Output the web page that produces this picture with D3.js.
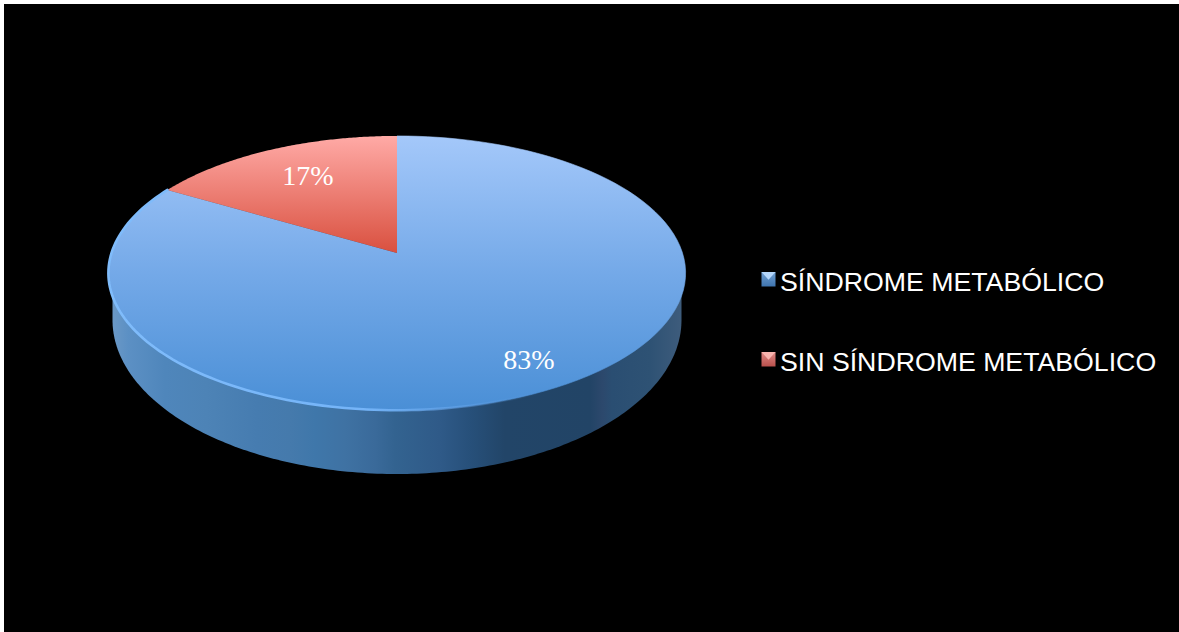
<!DOCTYPE html>
<html><head><meta charset="utf-8">
<script src="https://cdn.jsdelivr.net/npm/d3@7"></script>
<style>html,body{margin:0;padding:0;background:#fff;overflow:hidden}svg{display:block}</style>
</head><body><div id="c"></div>
<script>
const categories = ["SÍNDROME METABÓLICO", "SIN SÍNDROME METABÓLICO"];
const values = [83, 17];
const labels = ["83%", "17%"];
const wallBands = [[113,"#6a98c6"],[128,"#5c90c4"],[165,"#4f86bb"],[207,"#4d83b6"],[257,"#467cb0"],[290,"#457aac"],[315,"#3f77aa"],[345,"#3f72a3"],[375,"#3a6a9a"],[395,"#336390"],[440,"#2f5a88"],[470,"#27507a"],[505,"#224568"],[590,"#224466"],[602,"#2c486c"],[612,"#2a4e72"],[650,"#2e5274"],[682,"#3e5c7c"]];

const W=1179,H=632;
const svg=d3.select("#c").append("svg").attr("width",W).attr("height",H);
svg.append("rect").attr("x",4).attr("y",4).attr("width",W-4).attr("height",H-4).attr("fill","#000");
const defs=svg.append("defs");
function lg(id,stops,x1,y1,x2,y2,units){const g=defs.append("linearGradient").attr("id",id).attr("gradientUnits",units||"userSpaceOnUse")
 .attr("x1",x1).attr("y1",y1).attr("x2",x2).attr("y2",y2);
 stops.forEach(s=>g.append("stop").attr("offset",s[0]).attr("stop-color",s[1]).attr("stop-opacity",s[2]===undefined?1:s[2]));}
lg("blueTop",[[0,"#a4c8fa"],[0.5,"#74a9e8"],[1,"#4a8fd6"]],0,136,0,410);
lg("redTop",[[0,"#ffaaa6"],[1,"#d9503f"]],0,136,0,253);
const wx=d3.scaleLinear().domain([113,682]).range([0,1]);
lg("wall",wallBands.map(b=>[wx(b[0]),b[1]]),113,0,682,0);
lg("rim",[[0,"#80bcfb",1],[0.45,"#74b4f8",1],[0.62,"#6aa8ee",.45],[0.75,"#5a95d8",0]],108,0,686,0);
lg("sqB",[[0,"#6f9fd2"],[1,"#3f74ae"]],0,0,0,1,"objectBoundingBox");
lg("sqR",[[0,"#e08a86"],[1,"#b9504c"]],0,0,0,1,"objectBoundingBox");
defs.append("filter").attr("id","soft").append("feGaussianBlur").attr("stdDeviation",0.7);

// projective disc: apex at (397,253), perspective-tilted circle
const cx=397,cy=253,R=285.5,A=134.2,P=0.1465;
const proj=t0=>{const t=t0-0.031*Math.sin(2*t0),u=Math.sin(t),v=-Math.cos(t),d=1-P*v;return [cx+R*u/d,cy+A*v/d];};
const pie=d3.pie().sort(null).startAngle(0).endAngle(2*Math.PI)(values);
const line=d3.line();
const arcPts=(a,b)=>d3.range(0,121).map(i=>proj(a+(b-a)*i/120));

// side wall: lower ellipse
const lower=d3.range(0,181).map(i=>{const t=Math.PI*i/180;return [397+284.5*Math.cos(t),320+154*Math.sin(t)];});
const wallPts=[[681.5,272]].concat(lower,[[112.5,272]]);
svg.append("path").attr("d",line(wallPts)+"Z").attr("fill","url(#wall)");

// top slices
const fills=["url(#blueTop)","url(#redTop)"];
pie.forEach((s,i)=>{
  svg.append("path").attr("d",line([[cx,cy],...arcPts(s.startAngle,s.endAngle)])+"Z").attr("fill",fills[i])
    .attr("stroke",i?"none":fills[i]).attr("stroke-width",i?0:0.6);
});
// rim highlight on blue slice, lower-left edge, fading toward the right
svg.append("path").attr("d",line(arcPts(Math.PI*0.75,Math.PI*1.66)))
  .attr("fill","none").attr("stroke","url(#rim)").attr("stroke-width",2.6).attr("stroke-linecap","round").attr("filter","url(#soft)");

// data labels
const labelPos=[[529,369],[308,185]];
labels.forEach((t,i)=>svg.append("text").attr("x",labelPos[i][0]).attr("y",labelPos[i][1]).attr("text-anchor","middle")
  .attr("font-family","'Liberation Serif',serif").attr("font-size",28).attr("fill","#fff").text(t));

// legend
const ly=[272,352];
categories.forEach((c,i)=>{
  const g=svg.append("g");
  const x=761.5,y=ly[i],s=14;
  g.append("rect").attr("x",x).attr("y",y).attr("width",s).attr("height",s+0.5).attr("fill",i?"url(#sqR)":"url(#sqB)");
  g.append("path").attr("d",line([[x,y],[x+s,y],[x+s/2,y+s*0.55]])+"Z").attr("fill",i?"#f8b4ae":"#b4d6fa");
  g.append("text").attr("x",780).attr("y",ly[i]+19).attr("font-family","'Liberation Sans',sans-serif").attr("font-size",26.7).attr("fill","#fff").text(c);
});
</script></body></html>
